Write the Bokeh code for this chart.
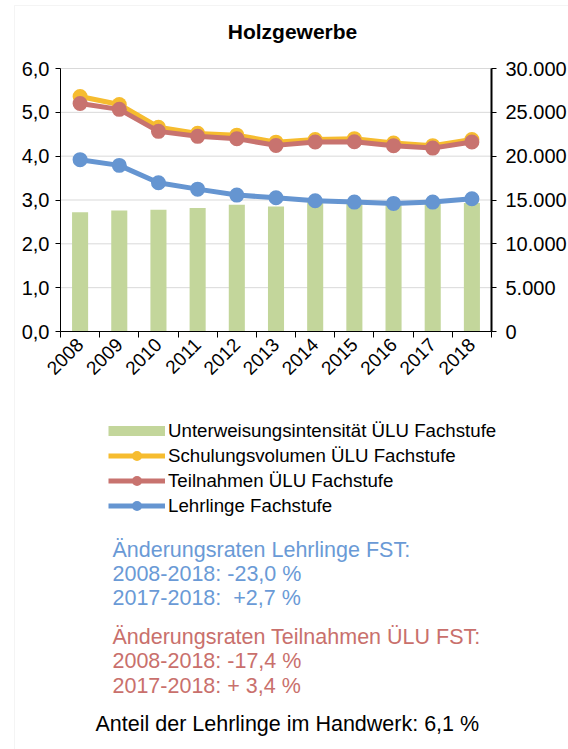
from bokeh.plotting import figure
from bokeh.models import (Range1d, LinearAxis, FixedTicker, Label, Legend, LegendItem,
                          ColumnDataSource, BoxAnnotation, Grid)
from bokeh.embed import file_html
from bokeh.resources import INLINE

# ---- data ----
years = ["2008", "2009", "2010", "2011", "2012", "2013", "2014", "2015", "2016", "2017", "2018"]
intensitaet = [2.72, 2.76, 2.78, 2.82, 2.89, 2.85, 2.96, 2.94, 2.92, 2.94, 2.93]
schulungsvolumen = [26800, 25900, 23300, 22600, 22400, 21600, 21900, 22000, 21500, 21200, 21900]
teilnahmen = [26000, 25340, 22830, 22260, 22000, 21230, 21610, 21650, 21200, 20920, 21610]
lehrlinge = [19600, 18950, 16970, 16240, 15560, 15260, 14920, 14760, 14610, 14760, 15150]
left_ticks = [0, 1, 2, 3, 4, 5, 6]
left_labels = ["0,0", "1,0", "2,0", "3,0", "4,0", "5,0", "6,0"]
right_ticks = [0, 5000, 10000, 15000, 20000, 25000, 30000]
right_labels = ["0", "5.000", "10.000", "15.000", "20.000", "25.000", "30.000"]
title_text = "Holzgewerbe"
legend_labels = ["Unterweisungsintensität ÜLU Fachstufe", "Schulungsvolumen ÜLU Fachstufe",
                 "Teilnahmen ÜLU Fachstufe", "Lehrlinge Fachstufe"]
blue_lines = ["Änderungsraten Lehrlinge FST:", "2008-2018: -23,0 %", "2017-2018: \u00a0+2,7 %"]
red_lines = ["Änderungsraten Teilnahmen ÜLU FST:", "2008-2018: -17,4 %", "2017-2018: + 3,4 %"]
bottom_line = "Anteil der Lehrlinge im Handwerk: 6,1 %"

GREEN = "#C3D69B"
YELLOW = "#F6BC2F"
RED = "#C8736F"
BLUE = "#6595D1"
FONT = "Liberation Sans"
TICK_FS = "20px"

# ---- layout (canvas pixels) ----
W, H = 568, 749
PLOT_L, PLOT_R, PLOT_T, PLOT_B = 60, 491, 68, 331
n = len(years)
ymax_left = left_ticks[-1]
ymax_right = right_ticks[-1]
px_x = (PLOT_R - PLOT_L) / n
px_y = (PLOT_B - PLOT_T) / ymax_left
x0 = -PLOT_L / px_x
x1 = n + (W - PLOT_R) / px_x
y0 = -(H - PLOT_B) / px_y
y1 = ymax_left + PLOT_T / px_y
rs = ymax_right / ymax_left

x_pos = [i + 0.5 for i in range(n)]
src = ColumnDataSource(dict(x=x_pos, bar=intensitaet, sv=schulungsvolumen,
                            tn=teilnahmen, lg=lehrlinge))

p = figure(width=W, height=H, output_backend="svg", toolbar_location=None,
           x_range=Range1d(x0, x1), y_range=Range1d(y0, y1),
           x_axis_location=None, y_axis_location=None,
           min_border=0, min_border_left=0, min_border_right=0,
           min_border_top=0, min_border_bottom=0)
p.outline_line_color = None
p.extra_y_ranges = {"right": Range1d(y0 * rs, y1 * rs)}
for gr in p.select(type=Grid):
    gr.visible = False

# horizontal grid lines, only across the plot area
grid_src = ColumnDataSource(dict(y=left_ticks[1:], xs=[0] * (len(left_ticks) - 1),
                                 xe=[n] * (len(left_ticks) - 1)))
p.segment(x0="xs", x1="xe", y0="y", y1="y", source=grid_src, line_color="#D9D9D9", line_width=1)

# x axis
xa = LinearAxis(fixed_location=0, bounds=(0, n),
                ticker=FixedTicker(ticks=x_pos, minor_ticks=list(range(n + 1))))
xa.major_label_overrides = {x: y for x, y in zip(x_pos, years)}
xa.major_label_orientation = 0.785
xa.major_tick_out = 0
xa.major_tick_in = 0
xa.minor_tick_out = 6
xa.minor_tick_in = 0
xa.minor_tick_line_color = "#000000"
xa.axis_line_color = "#000000"
xa.major_label_text_font = FONT
xa.major_label_text_font_size = "19px"
xa.major_label_text_color = "#000000"
xa.major_label_standoff = 4
p.add_layout(xa, "below")

# left y axis
ya = LinearAxis(fixed_location=0, bounds=(0, ymax_left),
                ticker=FixedTicker(ticks=left_ticks, minor_ticks=[]))
ya.major_label_overrides = {t: l for t, l in zip(left_ticks, left_labels)}
ya.major_tick_out = 5
ya.major_tick_in = 0
ya.axis_line_color = "#000000"
ya.major_tick_line_color = "#000000"
ya.major_label_text_font = FONT
ya.major_label_text_font_size = TICK_FS
ya.major_label_text_color = "#000000"
ya.major_label_standoff = 6
p.add_layout(ya, "left")

# right y axis
ry = LinearAxis(y_range_name="right", fixed_location=n, bounds=(0, ymax_right),
                ticker=FixedTicker(ticks=right_ticks, minor_ticks=[]))
ry.major_label_overrides = {t: l for t, l in zip(right_ticks, right_labels)}
ry.major_tick_out = 5
ry.major_tick_in = 0
ry.axis_line_color = "#000000"
ry.axis_line_width = 2
ry.major_tick_line_color = "#000000"
ry.major_label_text_font = FONT
ry.major_label_text_font_size = TICK_FS
ry.major_label_text_color = "#000000"
ry.major_label_standoff = 9
p.add_layout(ry, "right")

# glyphs
p.vbar(x="x", top="bar", width=0.41, source=src, fill_color=GREEN, line_color=None)
p.line("x", "sv", source=src, y_range_name="right", line_color=YELLOW, line_width=5)
p.scatter("x", "sv", source=src, y_range_name="right", size=15, fill_color=YELLOW, line_color=None)
p.line("x", "tn", source=src, y_range_name="right", line_color=RED, line_width=5)
p.scatter("x", "tn", source=src, y_range_name="right", size=15, fill_color=RED, line_color=None)
p.line("x", "lg", source=src, y_range_name="right", line_color=BLUE, line_width=5)
p.scatter("x", "lg", source=src, y_range_name="right", size=15, fill_color=BLUE, line_color=None)

# legend proxies (NaN data: nothing is drawn in the plot, only the swatches)
nan = float("nan")
proxy = ColumnDataSource(dict(x=[nan], y=[nan]))
lg_bar = p.line("x", "y", source=proxy, line_color=GREEN, line_width=10)
items = [LegendItem(label=legend_labels[0], renderers=[lg_bar])]
for col, lab in zip([YELLOW, RED, BLUE], legend_labels[1:]):
    l = p.line("x", "y", source=proxy, line_color=col, line_width=5)
    s = p.scatter("x", "y", source=proxy, size=12, fill_color=col, line_color=None)
    items.append(LegendItem(label=lab, renderers=[l, s]))
legend = Legend(items=items, location=(108, H - 518), orientation="vertical",
                glyph_width=57, glyph_height=25, label_height=25, label_standoff=3,
                spacing=0, padding=0, margin=0, border_line_color=None,
                background_fill_alpha=0, label_text_font=FONT, label_text_font_size="18.7px",
                label_text_color="#000000")
p.add_layout(legend, "center")


# texts: screen units relative to frame (= canvas), y measured from bottom
def sy(page_y):
    return H - page_y


p.add_layout(Label(x=292, y=sy(31), x_units="screen", y_units="screen", text=title_text,
                   text_font=FONT, text_font_size="21px", text_font_style="bold",
                   text_align="center", text_baseline="middle", text_color="#000000"))
for i, t in enumerate(blue_lines):
    p.add_layout(Label(x=112, y=sy(549 + 24 * i), x_units="screen", y_units="screen", text=t,
                       text_font=FONT, text_font_size="21.5px", text_baseline="middle",
                       text_color="#6A9AD6"))
for i, t in enumerate(red_lines):
    p.add_layout(Label(x=112, y=sy(636 + 24.5 * i), x_units="screen", y_units="screen", text=t,
                       text_font=FONT, text_font_size="21.5px", text_baseline="middle",
                       text_color="#C9706C"))
p.add_layout(Label(x=95, y=sy(723), x_units="screen", y_units="screen", text=bottom_line,
                   text_font=FONT, text_font_size="21.5px", text_baseline="middle",
                   text_color="#000000"))

p.add_layout(BoxAnnotation(left=14, right=W + 20, top=sy(5), bottom=-20,
                           left_units="screen", right_units="screen",
                           top_units="screen", bottom_units="screen",
                           fill_alpha=0, line_color="#D9D9D9", line_width=1))

open("out.html", "w").write(file_html(p, INLINE))
